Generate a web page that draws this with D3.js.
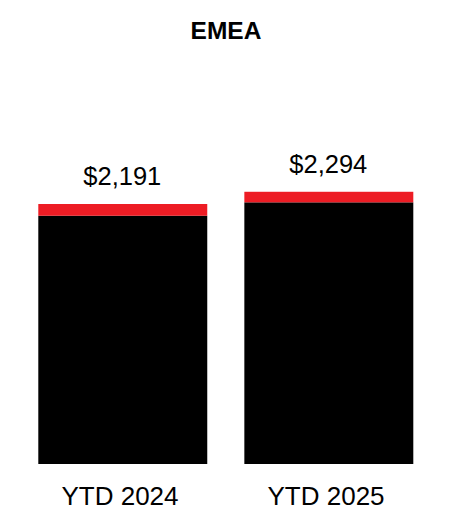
<!DOCTYPE html>
<html>
<head>
<meta charset="utf-8">
<script src="https://cdn.jsdelivr.net/npm/d3@7"></script>
<style>
html,body{margin:0;padding:0;background:#fff;}
svg{display:block;font-family:"Liberation Sans",Arial,sans-serif;}
</style>
</head>
<body>
<svg id="chart" width="452" height="532"></svg>
<script>
const categories = ["YTD 2024", "YTD 2025"];
const baseValues = [2092, 2205];
const topValues = [99, 89];
const totalLabels = ["$2,191", "$2,294"];
const title = "EMEA";

const svg = d3.select("#chart");
const W = 452, H = 532;

const x = d3.scaleBand().domain(categories).range([38.3, 413.3]).paddingInner(0.18).paddingOuter(0);
const y = d3.scaleLinear().domain([0, 2500]).range([464, 464 - 2500 * (260 / 2191)]);

const rows = categories.map((c, i) => ({cat: c, base: baseValues[i], top: topValues[i], label: totalLabels[i]}));
const stacked = d3.stack().keys(["base", "top"])(rows);
const colors = {base: "#000000", top: "#ED1C24"};

svg.append("g").selectAll("g").data(stacked).join("g")
  .attr("fill", d => colors[d.key])
  .selectAll("rect").data(d => d).join("rect")
  .attr("x", d => x(d.data.cat))
  .attr("width", x.bandwidth())
  .attr("y", d => y(d[1]))
  .attr("height", d => y(d[0]) - y(d[1]));

svg.append("g").selectAll("text").data(rows).join("text")
  .attr("x", d => x(d.cat) + x.bandwidth() / 2 - 0.5)
  .attr("y", d => y(d.base + d.top) - 19)
  .attr("text-anchor", "middle")
  .attr("font-size", 25.5)
  .attr("fill", "#000")
  .text(d => d.label);

const xAxis = d3.axisBottom(x).tickSize(0).tickPadding(0);
const gx = svg.append("g").attr("transform", "translate(0,464)").call(xAxis);
gx.select(".domain").remove();
gx.selectAll("text")
  .attr("dy", null)
  .attr("dx", -2.8)
  .attr("y", 41)
  .attr("font-size", 26)
  .attr("font-family", "Liberation Sans, Arial, sans-serif")
  .attr("fill", "#000");

svg.append("text")
  .attr("x", W / 2)
  .attr("y", 39)
  .attr("text-anchor", "middle")
  .attr("font-size", 24.5)
  .attr("font-weight", "bold")
  .attr("fill", "#000")
  .text(title);
</script>
</body>
</html>
